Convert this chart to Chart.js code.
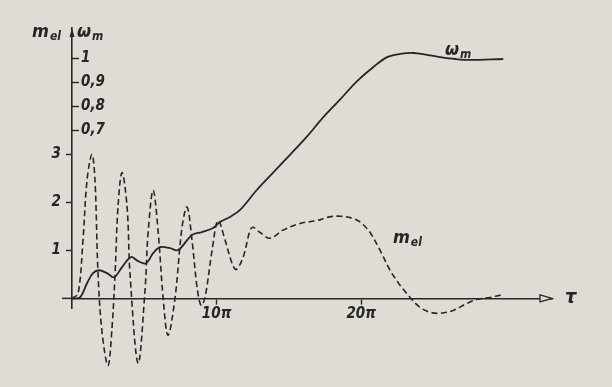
<!DOCTYPE html>
<html>
<head>
<meta charset="utf-8">
<script src="https://cdn.jsdelivr.net/npm/chart.js@4.4.1/dist/chart.umd.min.js"></script>
<style>
  html, body { margin: 0; padding: 0; background: #dedcd5; }
  canvas { display: block; }
</style>
</head>
<body>
<canvas id="chart" width="612" height="387"></canvas>
<script>
// tau in units of pi
var tauOmega = [0, 0.55, 1.04, 1.45, 1.87, 2.42, 2.91, 3.46, 4.08, 4.57, 5.12, 5.61, 6.09, 6.78, 7.34,
                8.3, 8.99, 9.76, 10.24, 10.93, 11.63, 12.8, 13.91, 15.09, 16.26, 17.37, 18.55, 19.72,
                20.83, 21.8, 22.7, 23.6, 24.57, 25.47, 26.51, 27.54, 29.83];
var omega = [0, 0.004, 0.063, 0.105, 0.117, 0.105, 0.088, 0.13, 0.172, 0.155, 0.146, 0.188, 0.213, 0.209, 0.201,
             0.264, 0.276, 0.293, 0.318, 0.339, 0.368, 0.452, 0.523, 0.598, 0.674, 0.753, 0.828, 0.904,
             0.962, 1.004, 1.017, 1.021, 1.013, 1.004, 0.996, 0.992, 0.996];

var tauMel = [0, 0.42, 0.76, 1.04, 1.38, 1.59, 1.8, 2.08, 2.49, 2.77, 2.98, 3.18, 3.46, 3.81, 4.01,
              4.57, 5.05, 5.26, 5.61, 5.95, 6.3, 6.64, 7.13, 7.61, 7.96, 8.3, 8.65, 8.93, 9.2,
              9.69, 10.1, 10.59, 11.07, 11.35, 11.83, 12.32, 12.53, 13.01, 13.7, 14.6, 15.78, 16.96,
              17.72, 18.55, 19.45, 20.0, 20.62, 21.31, 22.01, 22.7, 23.39, 24.08, 24.78, 25.47,
              26.37, 27.34, 28.03, 28.93, 29.83];
var mel = [0, 0.1, 1.21, 2.46, 3.0, 2.46, 0.52, -0.71, -1.4, -0.6, 0.52, 1.9, 2.62, 1.9, 0.52,
           -1.35, 0.17, 1.35, 2.25, 1.42, 0.02, -0.77, 0.02, 1.48, 1.9, 1.21, 0.23, -0.15, 0.02,
           1.0, 1.62, 1.21, 0.73, 0.6, 0.85, 1.42, 1.48, 1.37, 1.25, 1.42, 1.56, 1.62,
           1.69, 1.71, 1.66, 1.57, 1.37, 1.0, 0.58, 0.27, 0.02, -0.19, -0.29, -0.31,
           -0.25, -0.1, -0.02, 0.02, 0.08];

var melTicks = [1, 2, 3];
var omegaTicks = [0.7, 0.8, 0.9, 1];
var tauTicks = [10, 20];

var ink = "#262626";
var paper = "#dedcd5";
var family = '"DejaVu Sans Condensed", "DejaVu Sans", sans-serif';

function points(xs, ys) {
  var out = [];
  for (var i = 0; i < xs.length; i++) {
    out.push({x: xs[i], y: ys[i]});
  }
  return out;
}

function setTicks(list) {
  return function(scale) {
    scale.ticks = list.map(function(v) { return {value: v}; });
  };
}

function comma(v) {
  return v === 1 ? "1" : String(v).replace(".", ",");
}

// main letter + subscript, drawn as text
function subText(ctx, main, sub, x, y, size, subSize) {
  ctx.font = "italic bold " + size + "px " + family;
  ctx.fillText(main, x, y);
  var w = ctx.measureText(main).width;
  ctx.font = "italic bold " + subSize + "px " + family;
  ctx.fillText(sub, x + w + 1, y + 3);
}

var overlay = {
  id: "overlay",
  afterDraw: function(chart) {
    var ctx = chart.ctx;
    var xs = chart.scales.x, ys = chart.scales.y, ys2 = chart.scales.y2;
    var area = chart.chartArea;
    var x0 = xs.getPixelForValue(0);
    var y0 = ys.getPixelForValue(0);
    ctx.save();
    ctx.fillStyle = ink;
    ctx.strokeStyle = ink;
    ctx.lineWidth = 1.5;
    // short stub of the time axis left of the origin
    ctx.beginPath();
    ctx.moveTo(x0 - 10, y0);
    ctx.lineTo(x0, y0);
    ctx.stroke();
    ctx.lineWidth = 1.3;
    // arrow on the vertical axis
    ctx.beginPath();
    ctx.moveTo(x0, area.top);
    ctx.lineTo(x0 - 2.5, area.top + 9);
    ctx.lineTo(x0 + 2.5, area.top + 9);
    ctx.closePath();
    ctx.fill();
    // hollow arrow on the time axis
    ctx.beginPath();
    ctx.moveTo(area.right, y0);
    ctx.lineTo(area.right - 12, y0 - 3.5);
    ctx.lineTo(area.right - 12, y0 + 3.5);
    ctx.closePath();
    ctx.fillStyle = paper;
    ctx.fill();
    ctx.stroke();
    ctx.fillStyle = ink;

    ctx.textBaseline = "alphabetic";
    ctx.textAlign = "left";
    subText(ctx, "m", "el", 32, 37, 18, 12);
    subText(ctx, "\u03c9", "m", 77, 37, 18, 12);
    ctx.font = "italic bold 20px " + family;
    ctx.fillText("\u03c4", 565, y0 + 5);
    subText(ctx, "\u03c9", "m", xs.getPixelForValue(25.8), ys2.getPixelForValue(1.012), 18, 12);
    subText(ctx, "m", "el", xs.getPixelForValue(22.2), ys.getPixelForValue(1.15), 18, 12);
    ctx.restore();
  }
};

var tickFont = {family: family, size: 15, style: "italic", weight: "bold"};

var chart = new Chart(document.getElementById("chart").getContext("2d"), {
  type: "line",
  data: {
    datasets: [{
      label: "omega_m",
      data: points(tauOmega, omega),
      yAxisID: "y2",
      borderColor: ink,
      borderWidth: 1.8,
      pointRadius: 0,
      tension: 0.35,
      fill: false,
      clip: false
    }, {
      label: "m_el",
      data: points(tauMel, mel),
      yAxisID: "y",
      borderColor: ink,
      borderWidth: 1.6,
      borderDash: [6, 3.5],
      pointRadius: 0,
      tension: 0.35,
      fill: false,
      clip: false
    }]
  },
  options: {
    responsive: false,
    animation: false,
    events: [],
    layout: {padding: {left: 0, right: 60, top: 28, bottom: 79}},
    plugins: {legend: {display: false}, tooltip: {enabled: false}},
    scales: {
      x: {
        type: "linear",
        min: 0,
        max: 33.2,
        position: {y: 0},
        afterBuildTicks: setTicks(tauTicks),
        afterFit: function(scale) { scale.height = 0; },
        grid: {display: true, drawOnChartArea: false, tickLength: 5, tickColor: ink, tickWidth: 1.4},
        border: {display: true, color: ink, width: 1.6},
        ticks: {
          autoSkip: false,
          maxRotation: 0,
          padding: 2,
          color: ink,
          font: tickFont,
          callback: function(v) { return v + "\u03c0"; }
        }
      },
      y: {
        type: "linear",
        min: -0.2,
        max: 5.625,
        position: "left",
        weight: 1,
        afterBuildTicks: setTicks(melTicks),
        afterFit: function(scale) { scale.width = 72; },
        grid: {display: true, drawOnChartArea: false, tickLength: 6, tickColor: ink, tickWidth: 1.4},
        border: {display: true, color: ink, width: 1.6},
        ticks: {padding: 5, color: ink, font: tickFont}
      },
      y2: {
        type: "linear",
        min: -0.04,
        max: 1.125,
        position: "left",
        weight: 0,
        afterBuildTicks: setTicks(omegaTicks),
        afterFit: function(scale) { scale.width = 0; },
        grid: {display: true, drawOnChartArea: false, tickLength: -7, tickColor: ink, tickWidth: 1.4},
        border: {display: false},
        ticks: {
          mirror: true,
          padding: 9,
          color: ink,
          font: tickFont,
          callback: function(v) { return comma(v); }
        }
      }
    }
  },
  plugins: [overlay]
});
</script>
</body>
</html>
